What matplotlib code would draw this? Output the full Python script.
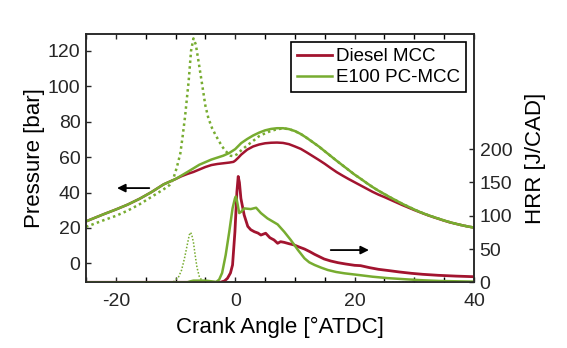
import matplotlib
matplotlib.use("Agg")
import matplotlib.pyplot as plt
from matplotlib.ticker import MultipleLocator, FixedLocator

plt.rcParams['font.family'] = ['Liberation Sans', 'DejaVu Sans']
plt.rcParams['axes.unicode_minus'] = False

RED = '#A2142F'
GREEN = '#77AC30'

# Pressure [bar]
ang_p_diesel = [-25, -22, -20, -18, -16, -14, -12, -10, -9, -8, -7, -6, -5, -4, -3, -2, -1, -0.3, 0, 0.5,
                1, 2, 3, 4, 5, 6, 7, 8, 9, 10, 11, 12, 13, 14, 15, 16, 17, 18, 19, 20, 21, 22, 23,
                24, 25, 26, 27, 28, 29, 30, 31, 32, 33, 34, 35, 36, 37, 38, 39, 40]
p_diesel = [23.7, 27.8, 30.4, 33.2, 36.5, 40.3, 44.6, 47.6, 49.2, 50.5, 51.6, 53.0, 54.4, 55.5, 56.1,
            56.5, 56.9, 57.3, 58.0, 59.6, 61.4, 64.2, 66.0, 67.1, 67.8, 68.1, 68.2, 68.0, 67.3, 66.0,
            64.6, 62.6, 60.5, 58.4, 56.2, 53.8, 51.5, 49.5, 47.6, 45.8, 44.0, 42.2, 40.4, 38.8, 37.4,
            35.9, 34.4, 32.9, 31.5, 30.1, 28.8, 27.5, 26.3, 25.2, 24.1, 23.1, 22.3, 21.5, 20.8, 20.2]

ang_p_e100 = [-25, -22, -20, -18, -16, -14, -12, -10, -8, -6, -4, -3, -2, -1, 0, 1, 2, 3, 4, 5, 6, 7, 8,
              9, 10, 11, 12, 13, 14, 15, 16, 17, 18, 19, 20, 21, 22, 23, 24, 25, 26, 27, 28, 29, 30,
              31, 32, 33, 34, 35, 36, 37, 38, 39, 40]
p_e100 = [23.7, 27.8, 30.4, 33.2, 36.5, 40.3, 44.6, 47.6, 51.6, 55.7, 58.6, 59.7, 60.8, 62.3, 64.5,
          67.9, 70.2, 72.2, 73.8, 75.1, 75.9, 76.3, 76.3, 75.8, 74.7, 73.0, 70.8, 68.4, 66.0, 63.3,
          60.6, 57.9, 55.3, 52.7, 50.1, 47.8, 45.4, 43.1, 41.0, 39.1, 37.2, 35.4, 33.6, 32.0, 30.4,
          28.9, 27.6, 26.4, 25.3, 24.2, 23.2, 22.3, 21.5, 20.8, 20.2]

ang_p_e100_dot = [-25, -22, -20, -18, -16, -14, -12, -11, -10.4, -9.8, -9.2, -8.8, -8.4, -7.8, -7.4,
                  -7.0, -6.6, -6.1, -5.5, -5.0, -4.5, -3.9, -3.3, -2.8, -2.2, -1.7, -1.2, -0.8, -0.3,
                  0.3, 1, 2, 2.8, 4, 5, 6, 7, 8, 9, 10, 11, 12, 13, 14, 15, 16, 17, 18, 19, 20, 21,
                  22, 23, 24, 25, 26, 27, 28, 29, 30, 31, 32, 33, 34, 35, 36, 37, 38, 39, 40]
p_e100_dot = [20.6, 24.4, 26.8, 29.8, 33.4, 37.6, 41.8, 44.2, 47.5, 54.0, 62.0, 72.0, 83.0, 103.0,
              120.0, 127.0, 123.5, 113.0, 100.0, 89.0, 82.0, 76.5, 72.5, 69.5, 66.0, 63.8, 62.0, 60.8,
              60.5, 61.6, 63.8, 66.6, 68.6, 71.8, 73.4, 74.8, 75.7, 76.2, 75.8, 74.7, 73.0, 70.8,
              68.4, 66.0, 63.3, 60.6, 57.9, 55.3, 52.7, 50.1, 47.8, 45.4, 43.1, 41.0, 39.1, 37.2,
              35.4, 33.6, 32.0, 30.4, 28.9, 27.6, 26.4, 25.3, 24.2, 23.2, 22.3, 21.5, 20.8, 20.2]

# Heat release rate [J/CAD]
ang_h_diesel = [-25, -2.5, -1.8, -1.3, -0.8, -0.45, -0.05, 0.28, 0.5, 0.7, 0.95, 1.5, 2.1, 2.6, 3.2,
                3.8, 4.3, 5.1, 5.8, 6.5, 7.1, 7.6, 8.2, 9, 9.9, 10.7, 11.6, 12.5, 13.3, 14.1, 14.9,
                16, 17.2, 18.5, 20, 21, 22.5, 24, 25.8, 27.5, 29.5, 31.4, 34, 37, 40]
h_diesel = [0, 0, 2, 6, 14, 26, 76, 136, 159, 150, 126, 101, 84, 79, 76, 74, 71, 73.7, 67, 63.6, 58.6,
            61, 60, 58, 56, 53, 50, 46, 42, 38.5, 35, 32, 29.5, 27.5, 25.5, 25, 22, 19.5, 17.5, 15.5,
            13.5, 12, 10.5, 9.3, 8.4]

ang_h_e100 = [-25, -8, -7.5, -7, -5, -4, -3.2, -2.7, -2.2, -1.6, -1.0, -0.45, -0.05, 0.1, 0.3, 0.67,
              1.0, 1.5, 2.6, 3.5, 4.3, 5.4, 7.1, 8.2, 9.3, 10.5, 11.6, 12.4, 13.3, 14.4, 15.5, 16.9,
              18.3, 21.1, 23, 25.5, 28.6, 31.5, 34.2, 37, 40]
h_e100 = [0, 0, 1.5, 2.5, 2.5, 1.5, 0.5, 4, 14, 41, 76, 111, 126, 129, 122, 104, 106, 111, 110, 112,
          104, 96, 87, 76, 63.6, 48.6, 36, 30, 26, 22, 18.5, 15.5, 13.5, 10.5, 8.4, 6.3, 4.5, 3, 2,
          1.5, 1]

ang_h_e100_dot = [-25, -11, -10.3, -9.5, -9, -8.5, -8, -7.7, -7.5, -7.3, -7, -6.7, -6.4, -6, -5.5, -5, 40]
h_e100_dot = [0, 0, 1, 8, 18, 36, 58, 71, 75, 72, 60, 40, 22, 8, 2, 0, 0]

fig = plt.figure(figsize=(5.67, 3.48), dpi=100)
ax1 = fig.add_axes([86/567, 1-282.3/348, (474-86)/567, (282.3-34)/348])
ax2 = ax1.twinx()

ax1.plot(ang_p_diesel, p_diesel, color=RED, lw=1.8)
ax1.plot(ang_p_e100, p_e100, color=GREEN, lw=1.8)
ax1.plot(ang_p_e100_dot, p_e100_dot, color=GREEN, lw=1.8, ls=(0, (1, 1.3)))

l1, = ax2.plot(ang_h_diesel, h_diesel, color=RED, lw=2.0)
l2, = ax2.plot(ang_h_e100, h_e100, color=GREEN, lw=1.8)
ax2.plot(ang_h_e100_dot, h_e100_dot, color=GREEN, lw=1.1, ls=(0, (1, 1.2)))

ax1.set_xlim(-25, 40)
ax1.set_ylim(-10.7, 129.5)
ax2.set_ylim(0, 373)

ax1.xaxis.set_major_locator(FixedLocator([-20, 0, 20, 40]))
ax1.xaxis.set_minor_locator(MultipleLocator(5))
ax1.yaxis.set_major_locator(FixedLocator([0, 20, 40, 60, 80, 100, 120]))
ax2.yaxis.set_major_locator(FixedLocator([0, 50, 100, 150, 200]))

for ax in (ax1, ax2):
    ax.tick_params(direction='in', labelsize=14, length=3.5, width=1.0, colors='#262626')
    ax.tick_params(which='minor', direction='in', length=3.5, width=1.0)
    for s in ax.spines.values():
        s.set_linewidth(1.1)
        s.set_color('#262626')
ax1.tick_params(axis='x', which='both', top=True)
ax1.tick_params(axis='x', pad=8)
ax1.tick_params(axis='y', pad=4)
ax2.tick_params(axis='y', pad=4)

ax1.set_xlabel('Crank Angle [°ATDC]', fontsize=16, labelpad=5)
ax1.set_ylabel('Pressure [bar]', fontsize=16, labelpad=2)
ax2.set_ylabel('HRR [J/CAD]', fontsize=16, labelpad=9)

ax1.annotate('', xy=(-19.8, 42.5), xytext=(-14.4, 42.5),
             arrowprops=dict(arrowstyle='-|>', color='black', lw=1.3, mutation_scale=12,
                             shrinkA=0, shrinkB=0))
ax1.annotate('', xy=(22.4, 7.5), xytext=(16.0, 7.5),
             arrowprops=dict(arrowstyle='-|>', color='black', lw=1.3, mutation_scale=12,
                             shrinkA=0, shrinkB=0))

leg = ax2.legend([l1, l2], ['Diesel MCC', 'E100 PC-MCC'], loc='upper right', fontsize=13.5,
                 fancybox=False, edgecolor='black', framealpha=1, borderaxespad=0.45,
                 handlelength=1.9, handletextpad=0.2, borderpad=0.3, labelspacing=0.2)
leg.get_frame().set_linewidth(1.2)

fig.savefig('out.png', dpi=100)
